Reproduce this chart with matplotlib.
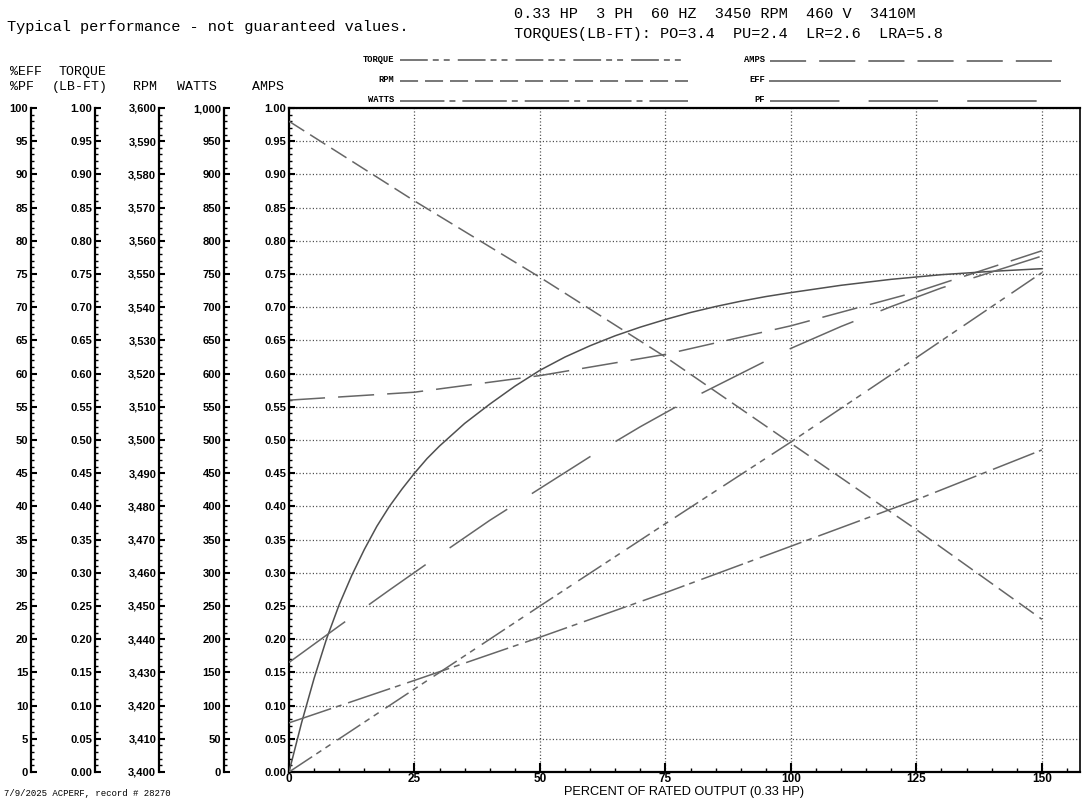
import matplotlib
matplotlib.use('Agg')
import matplotlib.pyplot as plt
from matplotlib.ticker import MultipleLocator, FuncFormatter

plt.rcParams['lines.scale_dashes'] = False
plt.rcParams['font.family'] = ['Liberation Sans', 'DejaVu Sans']

W, H = 1087, 801

# values, x = percent of rated output
eff_pct = [0, 2.5, 5, 7.5, 10, 12.5, 15, 17.5, 20, 22.5, 25, 27.5, 30, 35, 40, 45, 50,
           55, 60, 65, 70, 75, 80, 85, 90, 95, 100, 110, 120, 130, 140, 150]
eff = [0, 7.4, 14.1, 20.1, 25.2, 29.6, 33.5, 37.0, 40.0, 42.6, 45.0, 47.2, 49.1, 52.5, 55.4, 58.1, 60.5,
       62.5, 64.2, 65.7, 67.0, 68.15, 69.2, 70.1, 70.9, 71.6, 72.2, 73.3, 74.2, 74.9, 75.4, 75.8]
pf_pct = [0, 10, 20, 30, 40, 50, 60, 70, 80, 90, 100, 110, 120, 130, 140, 150]
pf = [16.5, 22.0, 27.4, 32.7, 37.9, 42.7, 47.5, 52.0, 56.2, 60.0,
      63.8, 67.1, 70.1, 72.9, 75.3, 77.7]
load_pct = [0, 25, 50, 75, 100, 125, 150]
torque = [0, 0.125, 0.25, 0.374, 0.497, 0.624, 0.752]
rpm = [3596, 3572, 3549, 3525, 3499, 3473, 3446]
watts = [74, 138, 203, 270, 340, 410, 485]
amps = [0.560, 0.572, 0.597, 0.629, 0.672, 0.723, 0.785]

styles = {
    'TORQUE': (0, (20, 3.6, 4.3, 3.6, 4.3, 5.8)),
    'RPM': (0, (13, 5)),
    'WATTS': (0, (32, 3.6, 4.3, 5)),
    'AMPS': (0, (26, 9.4)),
    'EFF': '-',
    'PF': (0, (50, 21)),
}

fig = plt.figure(figsize=(W / 100, H / 100), dpi=100)

# overlay in pixel coords for header text and legend samples
lay = fig.add_axes([0, 0, 1, 1])
lay.set_xlim(0, W)
lay.set_ylim(H, 0)
lay.axis('off')

mono = 'Liberation Mono'
lay.text(7, 27, 'Typical performance - not guaranteed values.', family=mono, fontsize=11, va='center')
lay.text(514, 14, '0.33 HP  3 PH  60 HZ  3450 RPM  460 V  3410M', family=mono, fontsize=11, va='center')
lay.text(514, 34, 'TORQUES(LB-FT): PO=3.4  PU=2.4  LR=2.6  LRA=5.8', family=mono, fontsize=11, va='center')
lay.text(10, 72, '%EFF', family=mono, fontsize=9.5, va='center')
lay.text(10, 87, '%PF', family=mono, fontsize=9.5, va='center')
lay.text(58, 72, 'TORQUE', family=mono, fontsize=9.5, va='center')
lay.text(52, 87, '(LB-FT)', family=mono, fontsize=9.5, va='center')
lay.text(133, 87, 'RPM', family=mono, fontsize=9.5, va='center')
lay.text(177, 87, 'WATTS', family=mono, fontsize=9.5, va='center')
lay.text(252, 87, 'AMPS', family=mono, fontsize=9.5, va='center')
lay.text(4, 794, '7/9/2025 ACPERF, record # 28270', family=mono, fontsize=6.5, va='center')
lay.text(684, 792, 'PERCENT OF RATED OUTPUT (0.33 HP)', fontsize=9.2, ha='center', va='center')

legend_rows = [('TORQUE', 394, 400, 688, 60), ('RPM', 394, 400, 688, 81), ('WATTS', 394, 400, 688, 101),
               ('AMPS', 765, 770, 1056, 61), ('EFF', 765, 770, 1060, 81), ('PF', 765, 770, 1040, 101)]
for name, lx, x0, x1, y in legend_rows:
    lay.text(lx, y - 1, name, family=mono, fontsize=6.3, fontweight='bold', ha='right', va='center')
    lay.plot([x0, x1], [y, y], color='#777777', lw=1.4, linestyle=styles[name])

# main plot (AMPS scale)
L, R, T, B = 289, 1080, 108, 772
ax = fig.add_axes([L / W, 1 - B / H, (R - L) / W, (B - T) / H])
ax.set_xlim(0, 157.6)
ax.set_ylim(0, 1)
ax.xaxis.set_major_locator(MultipleLocator(25))
ax.xaxis.set_minor_locator(MultipleLocator(5))
ax.yaxis.set_major_locator(MultipleLocator(0.05))
ax.yaxis.set_minor_locator(MultipleLocator(0.01))
ax.yaxis.set_major_formatter(FuncFormatter(lambda v, p: '%.2f' % v))
ax.grid(True, which='major', color='#444444', lw=0.9, linestyle=(0, (0.8, 1.6)))
ax.tick_params(axis='x', which='major', direction='in', length=6.5, width=1.5, pad=1, labelsize=8.5)
ax.tick_params(axis='x', which='minor', direction='in', length=3, width=1)
ax.tick_params(axis='y', which='major', direction='in', length=4.3, width=1.5, pad=2, labelsize=8)
ax.tick_params(axis='y', which='minor', direction='in', length=2.5, width=1)
for lab in ax.get_xticklabels() + ax.get_yticklabels():
    lab.set_fontweight('bold')
for s, lw in [('left', 1.6), ('top', 1.6), ('bottom', 1.6), ('right', 1.2)]:
    ax.spines[s].set_linewidth(lw)

comma = FuncFormatter(lambda v, p: '{:,.0f}'.format(v))
scales = {}
for key, xpix, lims, fmt, major, minor in [
        ('eff', 31, (0, 100), FuncFormatter(lambda v, p: '%d' % round(v)), 5, 1),
        ('torque', 95, (0, 1), FuncFormatter(lambda v, p: '%.2f' % v), 0.05, 0.01),
        ('rpm', 159, (3400, 3600), comma, 10, 2),
        ('watts', 224, (0, 1000), comma, 50, 10)]:
    tw = ax.twinx()
    tw.set_ylim(*lims)
    tw.spines['left'].set_visible(True)
    tw.spines['left'].set_position(('axes', (xpix - L) / (R - L)))
    tw.spines['left'].set_linewidth(1.6)
    for s in ['right', 'top', 'bottom']:
        tw.spines[s].set_visible(False)
    tw.yaxis.set_ticks_position('left')
    tw.yaxis.set_major_locator(MultipleLocator(major))
    tw.yaxis.set_minor_locator(MultipleLocator(minor))
    tw.yaxis.set_major_formatter(fmt)
    tw.tick_params(axis='y', which='major', direction='in', length=4.3, width=1.5, pad=2, labelsize=8)
    tw.tick_params(axis='y', which='minor', direction='in', length=2.5, width=1)
    for lab in tw.get_yticklabels():
        lab.set_fontweight('bold')
    scales[key] = tw

lc = '#666666'
scales['eff'].plot(eff_pct, eff, color='#505050', lw=1.1, linestyle=styles['EFF'])
scales['eff'].plot(pf_pct, pf, color=lc, lw=1.1, linestyle=styles['PF'])
scales['torque'].plot(load_pct, torque, color=lc, lw=1.1, linestyle=styles['TORQUE'])
scales['rpm'].plot(load_pct, rpm, color=lc, lw=1.1, linestyle=styles['RPM'])
scales['watts'].plot(load_pct, watts, color=lc, lw=1.1, linestyle=styles['WATTS'])
ax.plot(load_pct, amps, color=lc, lw=1.1, linestyle=styles['AMPS'])

fig.savefig('out.png', dpi=100)
